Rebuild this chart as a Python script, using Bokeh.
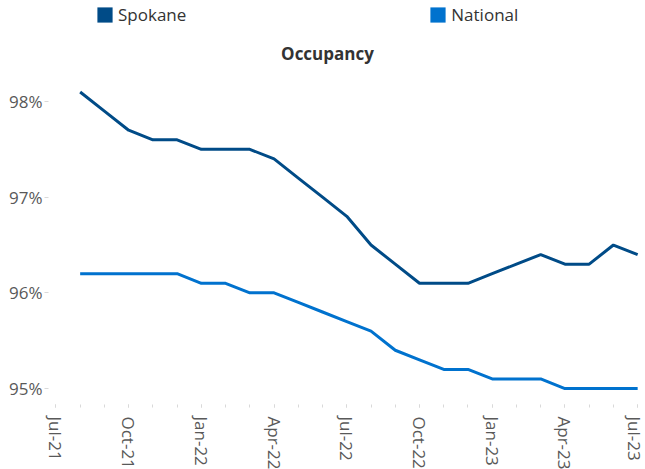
import pandas as pd
from bokeh.plotting import figure
from bokeh.models import (FixedTicker, PrintfTickFormatter, Range1d, Legend,
                          LegendItem, ColumnDataSource, Label)
from bokeh.embed import file_html
from bokeh.resources import INLINE

# ---- data ----
months = ["Aug-21", "Sep-21", "Oct-21", "Nov-21", "Dec-21", "Jan-22", "Feb-22",
          "Mar-22", "Apr-22", "May-22", "Jun-22", "Jul-22", "Aug-22", "Sep-22",
          "Oct-22", "Nov-22", "Dec-22", "Jan-23", "Feb-23", "Mar-23", "Apr-23",
          "May-23", "Jun-23", "Jul-23"]
spokane = [98.1, 97.9, 97.7, 97.6, 97.6, 97.5, 97.5, 97.5, 97.4, 97.2, 97.0,
           96.8, 96.5, 96.3, 96.1, 96.1, 96.1, 96.2, 96.3, 96.4, 96.3, 96.3,
           96.5, 96.4]
national = [96.2, 96.2, 96.2, 96.2, 96.2, 96.1, 96.1, 96.0, 96.0, 95.9, 95.8,
            95.7, 95.6, 95.4, 95.3, 95.2, 95.2, 95.1, 95.1, 95.1, 95.0, 95.0,
            95.0, 95.0]
tick_labels = ["Jul-21", "Oct-21", "Jan-22", "Apr-22", "Jul-22", "Oct-22",
               "Jan-23", "Apr-23", "Jul-23"]
y_ticks = [95, 96, 97, 98]

seq = [p.strftime("%b-%y") for p in pd.period_range("2021-07", "2023-07", freq="M")]
pos = {m: i for i, m in enumerate(seq)}
x = [pos[m] for m in months]

SPOKANE = "#004B87"
NATIONAL = "#0072CE"
FONT = "Open Sans"
GREY = "#595959"

FRAME_H = 404
p = figure(frame_width=594, frame_height=FRAME_H, output_backend="svg",
           toolbar_location=None,
           x_range=Range1d(-0.306, 24.2),
           y_range=Range1d(94.833, 99.056),
           min_border_left=48, min_border_right=3, min_border_top=0,
           min_border_bottom=64)

src = ColumnDataSource(dict(x=x, s=spokane, n=national))
r1 = p.line("x", "s", source=src, line_color=SPOKANE, line_width=3)
r2 = p.line("x", "n", source=src, line_color=NATIONAL, line_width=3)

# legend swatches: hidden area glyphs, drawn only as legend squares
sq1 = p.block(x=x[:1], y=spokane[:1], width=[0], height=[0],
              fill_color=SPOKANE, line_color=None, visible=False)
sq2 = p.block(x=x[:1], y=national[:1], width=[0], height=[0],
              fill_color=NATIONAL, line_color=None, visible=False)

legend = Legend(items=[LegendItem(label="Spokane", renderers=[sq1]),
                       LegendItem(label="National", renderers=[sq2])],
                orientation="horizontal", location=(47, FRAME_H - 15 - 11),
                glyph_width=19, glyph_height=19, label_height=19,
                label_standoff=4, spacing=242, padding=0, margin=0,
                border_line_color=None, background_fill_alpha=0,
                inactive_fill_alpha=0,
                label_text_font=FONT, label_text_font_size="17px",
                label_text_color="#333333")
p.add_layout(legend)

title = Label(x=279, y=FRAME_H - 53, x_units="screen", y_units="screen",
              text="Occupancy", text_align="center", text_baseline="middle",
              text_font=FONT, text_font_size="17px", text_font_style="bold",
              text_color="#333333")
p.add_layout(title)

p.xgrid.visible = False
p.ygrid.visible = False
p.outline_line_color = None

xa = p.xaxis[0]
xa.ticker = FixedTicker(ticks=[pos[t] for t in tick_labels],
                        minor_ticks=list(range(len(seq))))
xa.major_label_overrides = {pos[t]: t for t in tick_labels}
xa.major_label_orientation = "vertical"
xa.axis_line_color = None
xa.major_tick_line_color = "#D9D9D9"
xa.minor_tick_line_color = "#D9D9D9"
xa.major_tick_in = 0
xa.major_tick_out = 3
xa.minor_tick_in = 0
xa.minor_tick_out = 3
xa.major_label_standoff = 9
xa.major_label_text_font = FONT
xa.major_label_text_font_size = "17px"
xa.major_label_text_color = GREY

ya = p.yaxis[0]
ya.ticker = FixedTicker(ticks=y_ticks)
ya.formatter = PrintfTickFormatter(format="%d%%")
ya.axis_line_color = None
ya.major_tick_line_color = "#D9D9D9"
ya.major_tick_in = 0
ya.major_tick_out = 4
ya.minor_tick_line_color = None
ya.major_label_standoff = 2
ya.major_label_text_font = FONT
ya.major_label_text_font_size = "17px"
ya.major_label_text_color = GREY

open("out.html", "w").write(file_html(p, INLINE))
